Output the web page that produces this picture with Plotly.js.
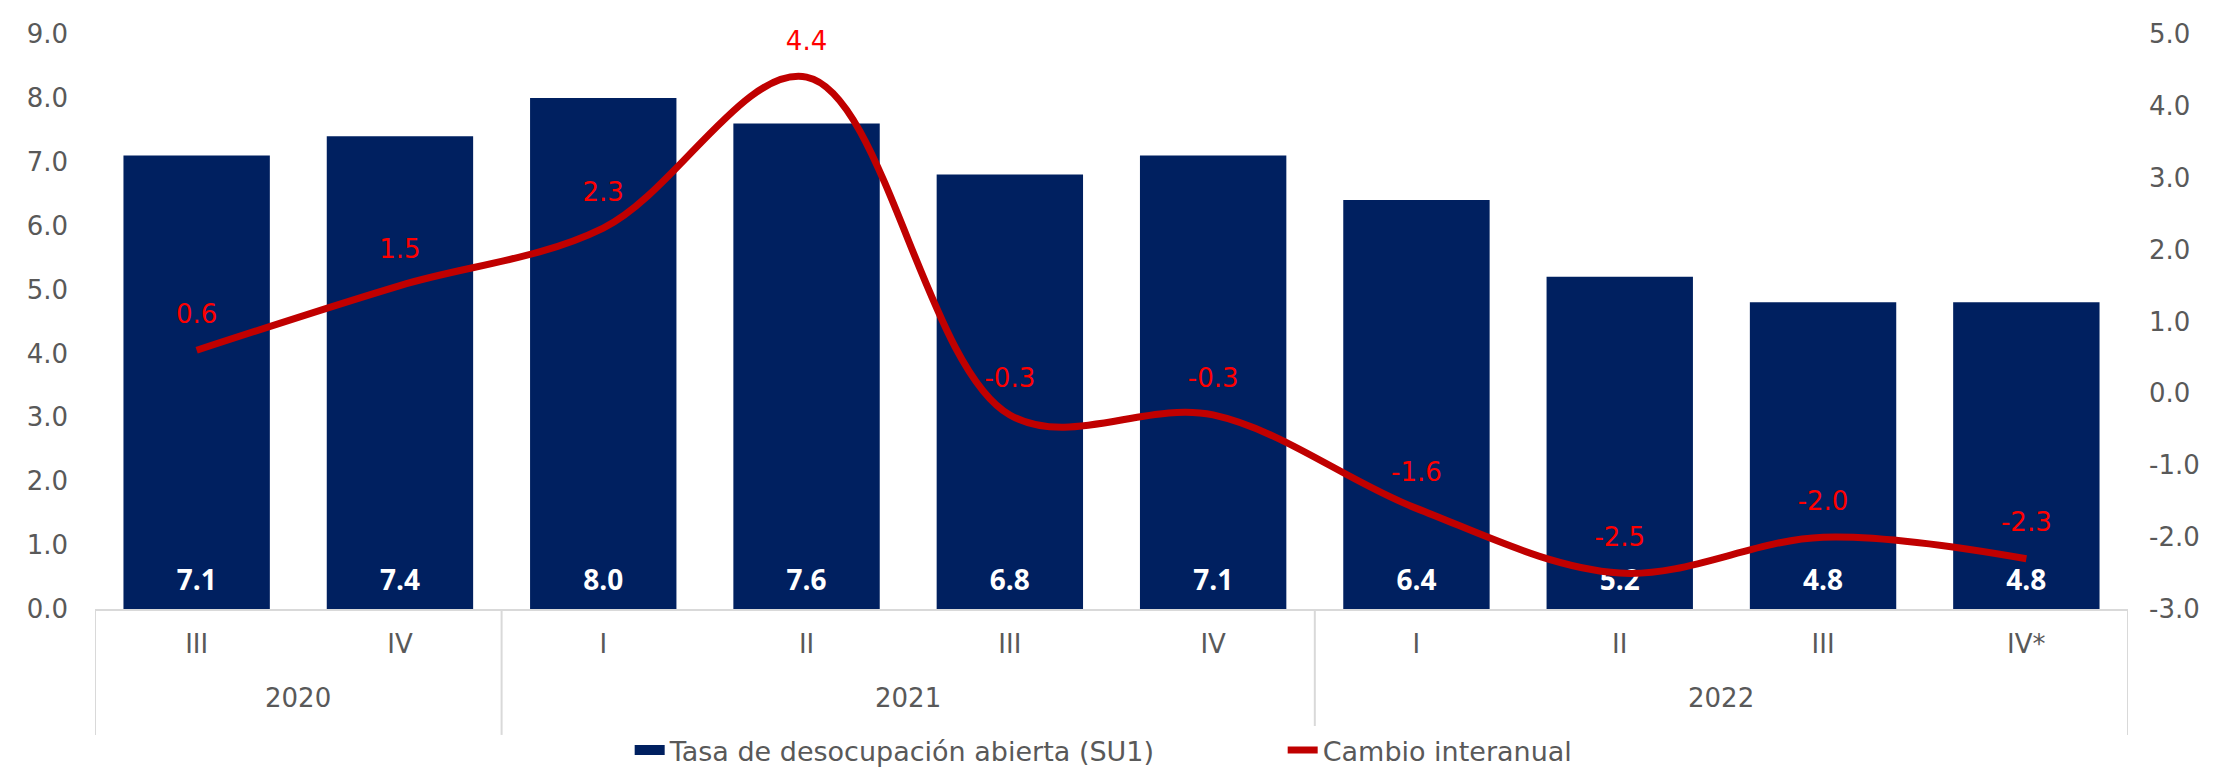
<!DOCTYPE html>
<html>
<head>
<meta charset="utf-8">
<script src="https://cdn.plot.ly/plotly-3.0.1.min.js"></script>
<style>
html,body{margin:0;padding:0;background:#fff;}
#chart{width:2215px;height:769px;}
</style>
</head>
<body>
<div id="chart"></div>
<script>
const years = ["2020","2020","2021","2021","2021","2021","2022","2022","2022","2022"];
const quarters = ["III","IV","I","II","III","IV","I","II","III","IV*"];
const tasaDesocupacion = [7.1, 7.4, 8.0, 7.6, 6.8, 7.1, 6.4, 5.2, 4.8, 4.8];
const cambioInteranual = [0.6, 1.5, 2.3, 4.4, -0.3, -0.3, -1.6, -2.5, -2.0, -2.3];
const seriesNames = ["Tasa de desocupación abierta (SU1)", "Cambio interanual"];
const leftTicks = [0, 1, 2, 3, 4, 5, 6, 7, 8, 9];
const rightTicks = [-3, -2, -1, 0, 1, 2, 3, 4, 5];

const font = '"DejaVu Sans", sans-serif';
const boldFont = '"Open Sans", "DejaVu Sans", sans-serif';
const grey = '#595959';
const navy = '#002060';

const idx = quarters.map((q, i) => i);

// year groups (centres and boundaries) derived from the years array
const groups = [];
years.forEach((y, i) => {
  const g = groups[groups.length - 1];
  if (g && g.year === y) { g.end = i; } else { groups.push({year: y, start: i, end: i}); }
});
const boundaries = [groups[0].start - 0.5].concat(groups.map(g => g.end + 0.5));

const barTrace = {
  type: 'bar',
  name: seriesNames[0],
  showlegend: false,
  x: idx,
  y: tasaDesocupacion,
  marker: {color: navy},
  text: tasaDesocupacion.map(v => v.toFixed(1)),
  texttemplate: '<span style="font-size:28px"><b>%{text}</b></span><br> ',
  textposition: 'inside',
  insidetextanchor: 'start',
  textangle: 0,
  constraintext: 'none',
  textfont: {family: boldFont, size: 10, color: '#FFFFFF'},
  hoverinfo: 'skip'
};

// legend entry for the bars (wide navy swatch)
const barLegend = {
  type: 'scatter',
  mode: 'lines',
  name: seriesNames[0],
  x: [null],
  y: [null],
  line: {color: navy, width: 16},
  hoverinfo: 'skip'
};

const lineTrace = {
  type: 'scatter',
  mode: 'lines+markers+text',
  name: seriesNames[1],
  x: idx,
  y: cambioInteranual,
  yaxis: 'y2',
  line: {color: '#C00000', width: 7, shape: 'spline', smoothing: 1},
  marker: {size: 32, color: 'rgba(0,0,0,0)'},
  text: cambioInteranual.map(v => v.toFixed(1)),
  textposition: 'top center',
  textfont: {family: font, size: 26, color: '#FF0000'},
  cliponaxis: false,
  hoverinfo: 'skip'
};

const annotations = groups.map(g => ({
  x: (g.start + g.end) / 2,
  xref: 'x',
  y: -0.155,
  yref: 'paper',
  yanchor: 'middle',
  xanchor: 'center',
  text: g.year,
  showarrow: false,
  font: {family: font, size: 26, color: grey}
}));

const shapes = boundaries.map(b => ({
  type: 'line',
  xref: 'x', yref: 'paper',
  x0: b, x1: b, y0: 0, y1: -0.219,
  line: {color: '#D9D9D9', width: 2}
}));

const layout = {
  width: 2215,
  height: 769,
  margin: {l: 95, r: 87, t: 34, b: 160, autoexpand: false},
  paper_bgcolor: '#FFFFFF',
  plot_bgcolor: '#FFFFFF',
  bargap: 0.28,
  showlegend: true,
  legend: {
    orientation: 'h',
    x: 0.263, xanchor: 'left',
    y: -0.246, yanchor: 'middle',
    entrywidth: 608,
    entrywidthmode: 'pixels',
    font: {family: font, size: 27, color: grey},
    traceorder: 'normal'
  },
  annotations: annotations,
  shapes: shapes,
  xaxis: {
    range: [boundaries[0], boundaries[boundaries.length - 1]],
    tickvals: idx,
    ticktext: quarters,
    showline: true,
    linecolor: '#D9D9D9',
    linewidth: 2,
    showgrid: false,
    zeroline: false,
    ticks: '',
    ticklabelstandoff: 11,
    tickfont: {family: font, size: 26, color: grey}
  },
  yaxis: {
    range: [leftTicks[0], leftTicks[leftTicks.length - 1]],
    tickvals: leftTicks,
    ticktext: leftTicks.map(v => v.toFixed(1)),
    showgrid: false,
    zeroline: false,
    showline: false,
    ticks: '',
    ticklabelstandoff: 26,
    tickfont: {family: font, size: 26, color: grey}
  },
  yaxis2: {
    range: [rightTicks[0], rightTicks[rightTicks.length - 1]],
    tickvals: rightTicks,
    ticktext: rightTicks.map(v => v.toFixed(1)),
    overlaying: 'y',
    side: 'right',
    showgrid: false,
    zeroline: false,
    showline: false,
    ticks: '',
    ticklabelstandoff: 20,
    tickfont: {family: font, size: 26, color: grey}
  }
};

Plotly.newPlot('chart', [barTrace, barLegend, lineTrace], layout, {displayModeBar: false, staticPlot: true});
</script>
</body>
</html>
